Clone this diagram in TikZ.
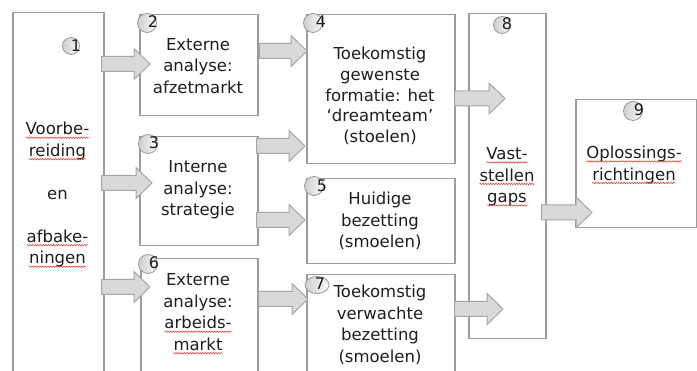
\documentclass[tikz,border=0pt]{standalone}
\usepackage{fontspec}
\setmainfont{DejaVu Sans}
\usetikzlibrary{calc,decorations.pathmorphing,shapes.geometric}
\definecolor{boxgray}{HTML}{9C9C9C}
\definecolor{arrfill}{HTML}{D9D9D9}
\definecolor{arrdraw}{HTML}{A6A6A6}
\definecolor{txt}{HTML}{1E1E1E}
\definecolor{circdraw}{HTML}{999999}
\definecolor{squig}{HTML}{E03030}
\newcommand\sq[1]{\tikz[baseline=(sqw.base)]{\node[inner sep=0pt,outer sep=0pt,anchor=center,text width={},draw=none,fill=none](sqw){#1};\draw[squig,line width=0.5pt,decorate,decoration={snake,amplitude=0.7pt,segment length=2.6pt}]([yshift=-2.8pt]sqw.base west)--([yshift=-2.8pt]sqw.base east);}}
\newcommand\barrow[5]{%
  \coordinate (as) at ($(#1.east |- 0,#3)+(#4,0)$);
  \coordinate (ae) at ($(#2.west |- 0,#3)+(#5,0)$);
  \draw[arrstyle] ($(as)+(0,-7.5)$) -- ($(ae)+(-16,-7.5)$) -- ($(ae)+(-16,-15.5)$) -- (ae) -- ($(ae)+(-16,15.5)$) -- ($(ae)+(-16,7.5)$) -- ($(as)+(0,7.5)$) -- cycle;}
\tikzset{
  box/.style={draw=boxgray,line width=1.5pt,fill=white,rectangle,anchor=north west,inner sep=0pt},
  arrstyle/.style={fill=arrfill,draw=arrdraw,line width=1pt,line join=miter},
  txtn/.style={align=center,text=txt,inner sep=0pt,font=\fontsize{16.5}{21.5}\selectfont},
  numc/.style={circle,left color=gray!38,right color=gray!4,draw=circdraw,line width=0.8pt,minimum size=17pt,inner sep=0pt},
  numt/.style={text=txt,inner sep=0pt,font=\fontsize{16}{16}\selectfont},
}
\begin{document}
\begin{tikzpicture}[x=1pt,y=-1pt]
\path[use as bounding box,fill=white] (0,0) rectangle (697,371);
\clip (0,0) rectangle (697,371);
% boxes
\node[box,minimum width=91,minimum height=370] (b1) at (12,12) {};
\node[box,minimum width=118,minimum height=101] (b2) at (139,14) {};
\node[box,minimum width=118,minimum height=109] (b3) at (139,136) {};
\node[box,minimum width=117,minimum height=124] (b6) at (140,258) {};
\node[box,minimum width=148,minimum height=149] (b4) at (306,14) {};
\node[box,minimum width=148,minimum height=85] (b5) at (306,178) {};
\node[box,minimum width=148,minimum height=110] (b7) at (306,274) {};
\node[box,minimum width=77,minimum height=325] (b8) at (468,13) {};
\node[box,minimum width=121,minimum height=128] (b9) at (575,99) {};
% texts
\node[txtn] (t1) at (57.5,195) {\sq{Voorbe-}\\\sq{reiding}\\[21.5pt]en\\[21.5pt]\sq{afbake-}\\\sq{ningen}};
\node[txtn] (t2) at (198,66) {Externe\\analyse:\\afzetmarkt};
\node[txtn] (t3) at (198,190) {Interne\\analyse:\\strategie};
\node[txtn] (t6) at (198,314) {Externe\\analyse:\\\sq{arbeids-}\\\sq{markt}};
\node[txtn,font=\fontsize{16.5}{20.7}\selectfont] (t4) at (380,96) {Toekomstig\\gewenste\\formatie: het\\‘dreamteam’\\(stoelen)};
\node[txtn] (t5) at (380,221) {Huidige\\bezetting\\(smoelen)};
\node[txtn] (t7) at (380,325) {Toekomstig\\verwachte\\bezetting\\(smoelen)};
\node[txtn] (t8) at (507,177) {\sq{Vast-}\\\sq{stellen}\\\sq{gaps}};
\node[txtn] (t9) at (634,165) {\sq{Oplossings-}\\\sq{richtingen}};
% arrows
\barrow{b1}{b2}{64}{-3}{11}
\barrow{b1}{b3}{183}{-3}{13}
\barrow{b1}{b6}{287}{-3}{10}
\barrow{b2}{b4}{51}{1}{1}
\barrow{b3}{b4}{146}{-2}{-1}
\barrow{b3}{b5}{220}{-2}{-1}
\barrow{b6}{b7}{299}{0}{2}
\barrow{b4}{b8}{98.5}{-1}{37}
\barrow{b7}{b8}{309}{-1}{35}
\barrow{b8}{b9}{212.5}{-5}{17}
% number circles
\node[numc] (c1) at (71,46) {};
\node[numt] (n1) at (76,46) {1};
\node[numc,minimum size=19pt] (c2) at (147,23) {};
\node[numt] (n2) at (153,22) {2};
\node[numc,minimum size=19pt] (c3) at (148,144) {};
\node[numt] (n3) at (154,143) {3};
\node[numc,minimum size=19pt] (c4) at (313,23) {};
\node[numt] (n4) at (321,22) {4};
\node[numc,minimum size=19pt] (c5) at (314,186) {};
\node[numt] (n5) at (322,186) {5};
\node[numc,minimum size=19pt] (c6) at (148,264) {};
\node[numt] (n6) at (154,263) {6};
\node[numc,ellipse,minimum width=24pt,minimum height=17pt] (c7) at (317,285) {};
\node[numt] (n7) at (320,284) {7};
\node[numc] (c8) at (502,25) {};
\node[numt] (n8) at (507,24) {8};
\node[numc,minimum size=19pt] (c9) at (633,111) {};
\node[numt] (n9) at (639,110) {9};
\end{tikzpicture}
\end{document}
